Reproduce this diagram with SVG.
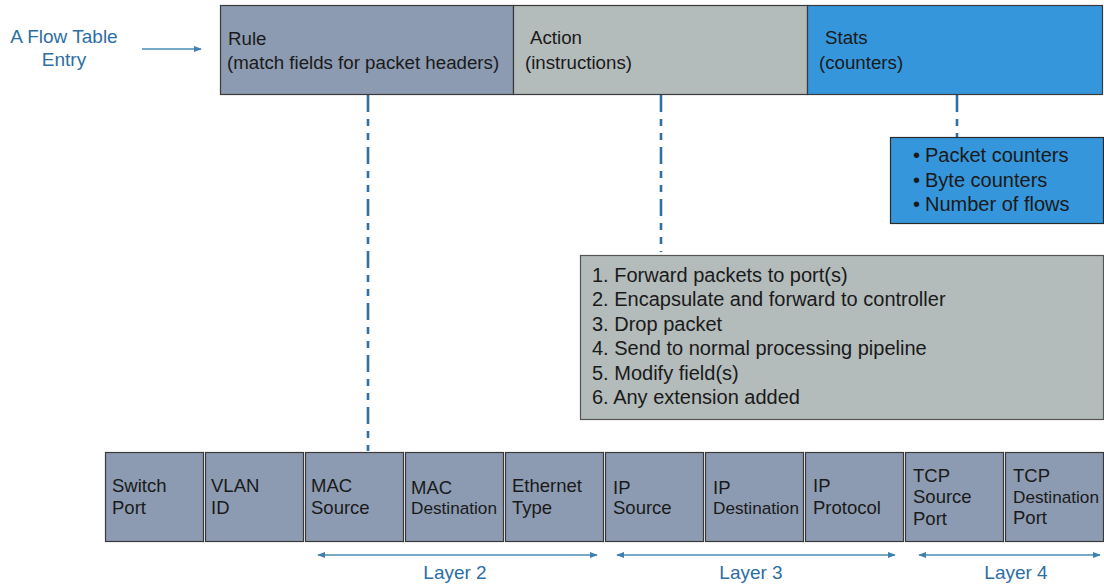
<svg xmlns="http://www.w3.org/2000/svg" width="1104" height="584" viewBox="0 0 1104 584">
<defs>
<style>
text{font-family:"Liberation Sans",Arial,sans-serif;fill:#1a1a1a}
.hd{font-size:18.7px}
.lst{font-size:20px}
.cell{fill:#8c9bb1;stroke:#3a3a3a;stroke-width:1.2}
.ct{font-size:18.5px}
.cs{font-size:17.2px}
.blue{fill:#2d6fa3;font-size:19px}
.dash{stroke:#2f6fa5;stroke-width:2.6;fill:none;stroke-dasharray:17,7,7,7,7,7}
.arr{stroke:#4a8bb5;stroke-width:1.5;fill:none}
</style>
<marker id="ah" viewBox="0 0 10 10" refX="9" refY="5" markerWidth="8" markerHeight="8" orient="auto-start-reverse" markerUnits="userSpaceOnUse">
<path d="M0,1 L10,5 L0,9 z" fill="#3c7fb0"/>
</marker>
</defs>

<g id="label-entry">
<text class="blue" x="64" y="43" text-anchor="middle">A Flow Table</text>
<text class="blue" x="64" y="66" text-anchor="middle">Entry</text>
</g>

<g id="connectors">
<line class="arr" x1="142" y1="49" x2="201" y2="49" marker-end="url(#ah)"/>
<line class="dash" x1="368" y1="95" x2="368" y2="451"/>
<line class="dash" x1="661" y1="95" x2="661" y2="252"/>
<line class="dash" x1="957" y1="95" x2="957" y2="137"/>
<line class="arr" x1="318" y1="555" x2="597" y2="555" marker-start="url(#ah)" marker-end="url(#ah)"/>
<line class="arr" x1="617" y1="555" x2="895" y2="555" marker-start="url(#ah)" marker-end="url(#ah)"/>
<line class="arr" x1="919" y1="555" x2="1100" y2="555" marker-start="url(#ah)" marker-end="url(#ah)"/>
</g>

<g id="rule">
<rect x="220.5" y="5.5" width="293" height="89" fill="#8c9bb1" stroke="#3a3a3a" stroke-width="1.2"/>
<text class="hd" x="228" y="45">Rule</text>
<text class="hd" x="227" y="69">(match fields for packet headers)</text>
</g>
<g id="action">
<rect x="513.5" y="5.5" width="294" height="89" fill="#b3bbbb" stroke="#3a3a3a" stroke-width="1.2"/>
<text class="hd" x="530" y="44">Action</text>
<text class="hd" x="525" y="69">(instructions)</text>
</g>
<g id="stats">
<rect x="807.5" y="5.5" width="295" height="89" fill="#3596db" stroke="#3a3a3a" stroke-width="1.2"/>
<text class="hd" x="825" y="44">Stats</text>
<text class="hd" x="819" y="69">(counters)</text>
</g>

<g id="stats-list">
<rect x="890.5" y="137.5" width="213" height="86" fill="#3596db" stroke="#2a2a2a" stroke-width="1.2"/>
<text class="lst" x="913" y="162">•</text><text class="lst" x="925" y="162">Packet counters</text>
<text class="lst" x="913" y="187">•</text><text class="lst" x="925" y="187">Byte counters</text>
<text class="lst" x="913" y="211">•</text><text class="lst" x="925" y="211">Number of flows</text>
</g>

<g id="action-list">
<rect x="580.5" y="255.5" width="523" height="164" fill="#b3bbbb" stroke="#555" stroke-width="1.2"/>
<text class="lst" x="592" y="282">1. Forward packets to port(s)</text>
<text class="lst" x="592" y="306">2. Encapsulate and forward to controller</text>
<text class="lst" x="592" y="331">3. Drop packet</text>
<text class="lst" x="592" y="355">4. Send to normal processing pipeline</text>
<text class="lst" x="592" y="380">5. Modify field(s)</text>
<text class="lst" x="592" y="404">6. Any extension added</text>
</g>

<g id="f-switch"><rect class="cell" x="105.5" y="452.5" width="98" height="89"/>
<text class="ct" x="112" y="492">Switch</text><text class="ct" x="112" y="514">Port</text></g>
<g id="f-vlan"><rect class="cell" x="205.5" y="452.5" width="98" height="89"/>
<text class="ct" x="211" y="492">VLAN</text><text class="ct" x="211" y="514">ID</text></g>
<g id="f-macsrc"><rect class="cell" x="305.5" y="452.5" width="98" height="89"/>
<text class="ct" x="311" y="492">MAC</text><text class="ct" x="311" y="514">Source</text></g>
<g id="f-macdst"><rect class="cell" x="405.5" y="452.5" width="98" height="89"/>
<text class="ct" x="411" y="494">MAC</text><text class="cs" x="411" y="514">Destination</text></g>
<g id="f-eth"><rect class="cell" x="505.5" y="452.5" width="98" height="89"/>
<text class="ct" x="512" y="492">Ethernet</text><text class="ct" x="512" y="514">Type</text></g>
<g id="f-ipsrc"><rect class="cell" x="605.5" y="452.5" width="98" height="89"/>
<text class="ct" x="613" y="494">IP</text><text class="ct" x="613" y="514">Source</text></g>
<g id="f-ipdst"><rect class="cell" x="705.5" y="452.5" width="98" height="89"/>
<text class="ct" x="713" y="494">IP</text><text class="cs" x="713" y="514">Destination</text></g>
<g id="f-ipproto"><rect class="cell" x="805.5" y="452.5" width="98" height="89"/>
<text class="ct" x="813" y="492">IP</text><text class="ct" x="813" y="514">Protocol</text></g>
<g id="f-tcpsrc"><rect class="cell" x="905.5" y="452.5" width="98" height="89"/>
<text class="ct" x="913" y="482">TCP</text><text class="ct" x="913" y="503">Source</text><text class="ct" x="913" y="525">Port</text></g>
<g id="f-tcpdst"><rect class="cell" x="1005.5" y="452.5" width="98" height="89"/>
<text class="ct" x="1013" y="482">TCP</text><text class="cs" x="1013" y="503">Destination</text><text class="ct" x="1013" y="524">Port</text></g>

<g id="layer-labels">
<text class="blue" x="455" y="579" text-anchor="middle">Layer 2</text>
<text class="blue" x="751" y="579" text-anchor="middle">Layer 3</text>
<text class="blue" x="1016" y="579" text-anchor="middle">Layer 4</text>
</g>
</svg>
